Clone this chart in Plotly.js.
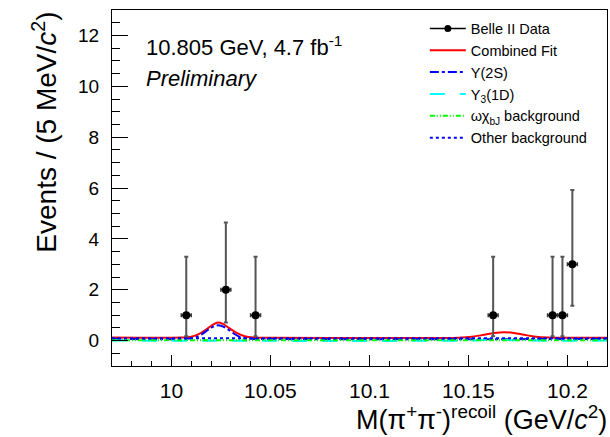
<!DOCTYPE html>
<html><head><meta charset="utf-8">
<script src="https://cdn.plot.ly/plotly-3.0.1.min.js"></script>
<style>html,body{margin:0;padding:0;background:#fff}</style>
</head><body>
<div id="chart" style="width:610px;height:437px"></div>
<script>
// Data points (5 MeV bins)
const dataX = [10.0075, 10.0275, 10.0425, 10.1625, 10.1925, 10.1975, 10.2025];
const dataY = [1, 2, 1, 1, 1, 1, 3];
const errUp = [2.30, 2.64, 2.30, 2.30, 2.30, 2.30, 2.92];
const errDown = [0.83, 1.29, 0.83, 0.83, 0.83, 0.83, 1.63];
const binHalf = [0.0025, 0.0025, 0.0025, 0.0025, 0.0025, 0.0025, 0.0025];

// Combined fit
const fitX = [9.97, 10.005, 10.010, 10.014, 10.018, 10.021, 10.0235, 10.026, 10.029, 10.033, 10.037, 10.042, 10.05, 10.1, 10.145, 10.152, 10.158, 10.163, 10.168, 10.173, 10.178, 10.184, 10.19, 10.22];
const fitY = [0.12, 0.12, 0.15, 0.26, 0.46, 0.63, 0.71, 0.66, 0.50, 0.30, 0.17, 0.12, 0.11, 0.10, 0.11, 0.15, 0.23, 0.30, 0.33, 0.30, 0.23, 0.15, 0.12, 0.11];

// Y(2S) component
const y2sX = [9.97, 10.008, 10.012, 10.016, 10.020, 10.0235, 10.027, 10.031, 10.035, 10.040, 10.05, 10.22];
const y2sY = [0.07, 0.07, 0.12, 0.28, 0.50, 0.60, 0.52, 0.30, 0.13, 0.07, 0.06, 0.06];

// Y3(1D) component
const y1dX = [9.97, 10.15, 10.164, 10.18, 10.22];
const y1dY = [0.0, 0.0, 0.03, 0.0, 0.0];

// omega chi_bJ background
const wchiX = [9.97, 10.22];
const wchiY = [0.01, 0.01];

// Other background
const otherX = [9.97, 10.22];
const otherY = [0.09, 0.09];

const xTicks = [10, 10.05, 10.1, 10.15, 10.2];
const xTickText = ['10', '10.05', '10.1', '10.15', '10.2'];
const yTicks = [0, 2, 4, 6, 8, 10, 12];

const FONT = 'Liberation Sans, Arial, Helvetica, sans-serif';

const traces = [
  {x: fitX, y: fitY, mode: 'lines', name: 'Combined Fit', line: {color: '#ff0000', width: 2, shape: 'spline'}, legendrank: 2},
  {x: y2sX, y: y2sY, mode: 'lines', name: 'Υ(2S)', line: {color: '#0000ff', width: 2, dash: 'dashdot', shape: 'spline'}, legendrank: 3},
  {x: y1dX, y: y1dY, mode: 'lines', name: 'Υ<sub>3</sub>(1D)', line: {color: '#00ffff', width: 2, dash: 'longdash', shape: 'spline'}, legendrank: 4},
  {x: wchiX, y: wchiY, mode: 'lines', name: 'ωχ<sub>bJ</sub> background', line: {color: '#00ff00', width: 2, dash: '5px,2px,1px,2px,1px,2px'}, legendrank: 5},
  {x: otherX, y: otherY, mode: 'lines', name: 'Other background', line: {color: '#0000ff', width: 2, dash: 'dot'}, legendrank: 6},
  {x: dataX, y: dataY, mode: 'markers', name: 'Belle II Data', showlegend: false,
   marker: {color: '#000', size: 8},
   error_y: {type: 'data', symmetric: false, array: errUp, arrayminus: errDown, color: '#555', thickness: 2, width: 2},
   error_x: {type: 'data', array: binHalf, color: '#333', thickness: 1.5, width: 2}},
  {x: [null], y: [null], mode: 'lines+markers', name: 'Belle II Data', line: {color: '#000', width: 1.5}, marker: {color: '#000', size: 7}, legendrank: 1}
];

const layout = {
  width: 610, height: 437,
  margin: {l: 112, r: 3, t: 10, b: 71, autoexpand: false},
  paper_bgcolor: '#fff', plot_bgcolor: '#fff',
  font: {family: FONT, color: '#000'},
  showlegend: true,
  legend: {x: 0.632, y: 0.993, xanchor: 'left', yanchor: 'top', bgcolor: 'rgba(255,255,255,0)', borderwidth: 0,
           itemwidth: 36, font: {family: FONT, size: 14.5, color: '#000'}, tracegroupgap: 0},
  xaxis: {range: [9.97, 10.22], tickmode: 'array', tickvals: xTicks, ticktext: xTickText,
          ticks: 'inside', ticklen: 11, tickwidth: 1, tickcolor: '#000',
          minor: {dtick: 0.01, tick0: 10, ticks: 'inside', ticklen: 5, tickcolor: '#000', showgrid: false},
          showline: true, linecolor: '#000', linewidth: 1, mirror: true, showgrid: false, zeroline: false,
          tickfont: {family: FONT, size: 21}, ticklabelstandoff: 6},
  yaxis: {range: [-1, 13], tickmode: 'array', tickvals: yTicks,
          ticks: 'inside', ticklen: 16, tickwidth: 1, tickcolor: '#000',
          minor: {dtick: 0.5, tick0: 0, ticks: 'inside', ticklen: 8, tickcolor: '#000', showgrid: false},
          showline: true, linecolor: '#000', linewidth: 1, mirror: true, showgrid: false, zeroline: false,
          tickfont: {family: FONT, size: 19}, ticklabelstandoff: 8},
  annotations: [
    {xref: 'paper', yref: 'paper', x: 0.064, y: 0.899, xanchor: 'left', yanchor: 'middle', showarrow: false,
     text: '10.805 GeV, 4.7 fb<sup>-1</sup>', font: {family: FONT, size: 22}},
    {xref: 'paper', yref: 'paper', x: 0.064, y: 0.807, xanchor: 'left', yanchor: 'middle', showarrow: false,
     text: '<i>Preliminary</i>', font: {family: FONT, size: 22}},
    {xref: 'paper', yref: 'paper', x: 1.004, y: -0.092, xanchor: 'right', yanchor: 'top', showarrow: false,
     text: 'M(π<sup>+</sup>π<sup>-</sup>)<sup>recoil</sup> (GeV/<i>c</i><sup>2</sup>)', font: {family: FONT, size: 27}},
    {xref: 'paper', yref: 'paper', x: -0.137, y: 1.0, xanchor: 'center', yanchor: 'top', showarrow: false, textangle: -90,
     text: 'Events / (5 MeV/<i>c</i><sup>2</sup>)', font: {family: FONT, size: 28}}
  ]
};

Plotly.newPlot('chart', traces, layout, {staticPlot: true, displayModeBar: false});
</script>
</body></html>
